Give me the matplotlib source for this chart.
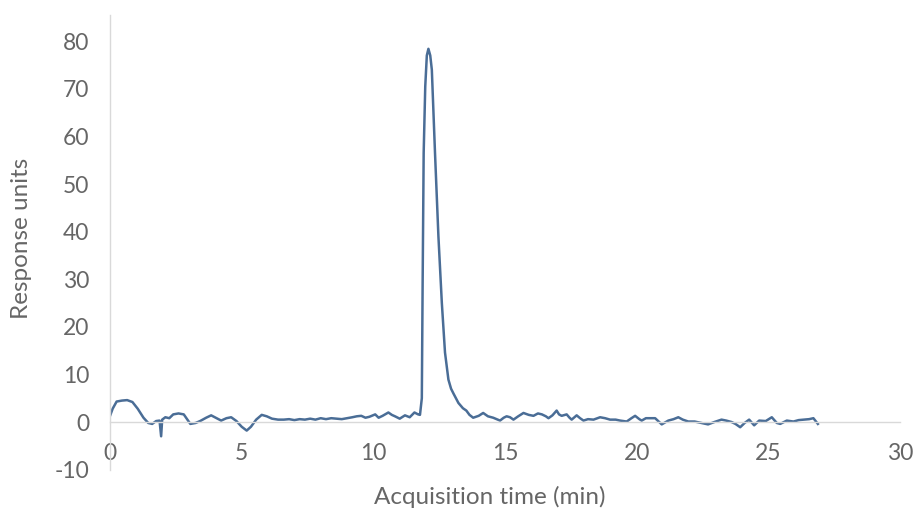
import matplotlib
matplotlib.use("Agg")
import matplotlib.pyplot as plt

# Chromatogram trace: acquisition time (min) and detector response
time_min = [
    0.00, 0.10, 0.25, 0.45, 0.65, 0.85, 1.05, 1.27, 1.45, 1.60, 1.75, 1.88, 1.94, 1.98,
    2.10, 2.25, 2.40, 2.60, 2.80, 2.95, 3.05, 3.25, 3.42, 3.65, 3.84, 4.05, 4.22, 4.42,
    4.60, 4.80, 5.00, 5.19, 5.35, 5.55, 5.76, 5.95, 6.15, 6.38, 6.60, 6.80, 7.00, 7.20,
    7.40, 7.60, 7.80, 8.00, 8.20, 8.40, 8.60, 8.80, 9.00, 9.20, 9.37, 9.54, 9.70, 9.85,
    10.07, 10.20, 10.35, 10.57, 10.70, 10.82, 11.00, 11.20, 11.38, 11.56, 11.70, 11.77,
    11.84, 11.87, 11.91, 11.97, 12.03, 12.09, 12.16, 12.22, 12.34, 12.47, 12.60, 12.72,
    12.85, 12.95, 13.04, 13.23, 13.40, 13.53, 13.65, 13.79, 14.00, 14.17, 14.35, 14.55,
    14.81, 14.95, 15.06, 15.19, 15.32, 15.50, 15.70, 15.90, 16.08, 16.25, 16.40, 16.55,
    16.65, 16.80, 16.96, 17.05, 17.15, 17.34, 17.45, 17.53, 17.72, 17.85, 17.98, 18.15,
    18.36, 18.61, 18.80, 18.99, 19.20, 19.37, 19.62, 19.80, 19.94, 20.10, 20.19, 20.35,
    20.50, 20.70, 20.95, 21.20, 21.40, 21.58, 21.75, 21.96, 22.20, 22.46, 22.71, 22.95,
    23.22, 23.40, 23.60, 23.75, 23.93, 24.10, 24.27, 24.46, 24.65, 24.90, 25.13, 25.32,
    25.45, 25.70, 25.95, 26.15, 26.33, 26.55, 26.71, 26.88,
]
response = [
    1.3, 2.8, 4.3, 4.5, 4.6, 4.2, 2.8, 0.9, -0.2, -0.4, 0.2, 0.3, -3.0, 0.5,
    1.0, 0.8, 1.6, 1.8, 1.6, 0.4, -0.4, -0.2, 0.2, 0.9, 1.4, 0.8, 0.3, 0.8,
    1.0, 0.2, -1.0, -1.8, -1.0, 0.5, 1.5, 1.2, 0.7, 0.5, 0.5, 0.6, 0.4, 0.6,
    0.5, 0.7, 0.5, 0.8, 0.6, 0.8, 0.7, 0.6, 0.8, 1.0, 1.2, 1.3, 0.9, 1.1,
    1.6, 0.9, 1.3, 2.0, 1.5, 1.2, 0.7, 1.4, 1.0, 2.0, 1.6, 1.5,
    5.0, 28.5, 56.5, 70.5, 77.0, 78.4, 77.0, 74.0, 56.6, 39.0, 25.0, 14.6,
    8.9, 7.0, 6.0, 4.0, 2.9, 2.4, 1.5, 0.9, 1.3, 1.9, 1.2, 0.9,
    0.3, 0.9, 1.2, 1.0, 0.5, 1.2, 1.9, 1.5, 1.3, 1.8, 1.6, 1.2,
    0.8, 1.4, 2.4, 1.6, 1.3, 1.6, 0.9, 0.5, 1.4, 0.8, 0.3, 0.6,
    0.5, 1.0, 0.8, 0.5, 0.5, 0.3, 0.1, 0.8, 1.3, 0.6, 0.3, 0.8,
    0.8, 0.8, -0.5, 0.3, 0.6, 1.0, 0.5, 0.1, 0.1, -0.2, -0.5, 0.0,
    0.5, 0.3, 0.0, -0.4, -1.1, -0.2, 0.5, -0.7, 0.3, 0.2, 1.0, -0.2,
    -0.4, 0.3, 0.1, 0.4, 0.5, 0.6, 0.8, -0.4,
]

x_ticks = [0, 5, 10, 15, 20, 25, 30]
y_ticks = [-10, 0, 10, 20, 30, 40, 50, 60, 70, 80]

TEXT = "#666666"
AXIS = "#d9d9d9"
LINE = "#4a6d96"

plt.rcParams["font.family"] = ["Lato", "DejaVu Sans"]
plt.rcParams["axes.unicode_minus"] = False

fig = plt.figure(figsize=(9.17, 5.11), dpi=100)
ax = fig.add_axes([0.12, 0.081, 0.8615, 0.8896])

ax.plot(time_min, response, color=LINE, lw=1.8, solid_joinstyle="round")

ax.set_xlim(0, 30)
ax.set_ylim(-10, 85.5)
ax.set_xticks(x_ticks)
ax.set_yticks(y_ticks)

for side in ("top", "right"):
    ax.spines[side].set_visible(False)
ax.spines["bottom"].set_position(("data", 0))
ax.spines["bottom"].set_color(AXIS)
ax.spines["left"].set_color(AXIS)
ax.spines["bottom"].set_linewidth(1.0)
ax.spines["left"].set_linewidth(1.0)

ax.tick_params(axis="x", length=0, pad=15, labelsize=16.5, labelcolor=TEXT)
ax.tick_params(axis="y", length=0, pad=15, labelsize=16.5, labelcolor=TEXT)

ax.set_xlabel("Acquisition time (min)", fontsize=17.5, color=TEXT)
ax.set_ylabel("Response units", fontsize=17.5, color=TEXT)
ax.xaxis.set_label_coords(0.481, -0.060)
ax.yaxis.set_label_coords(-0.112, 0.509)
ax.xaxis.label.set_va("center")
ax.yaxis.label.set_va("center")

fig.savefig("out.png", dpi=100, facecolor="white")
